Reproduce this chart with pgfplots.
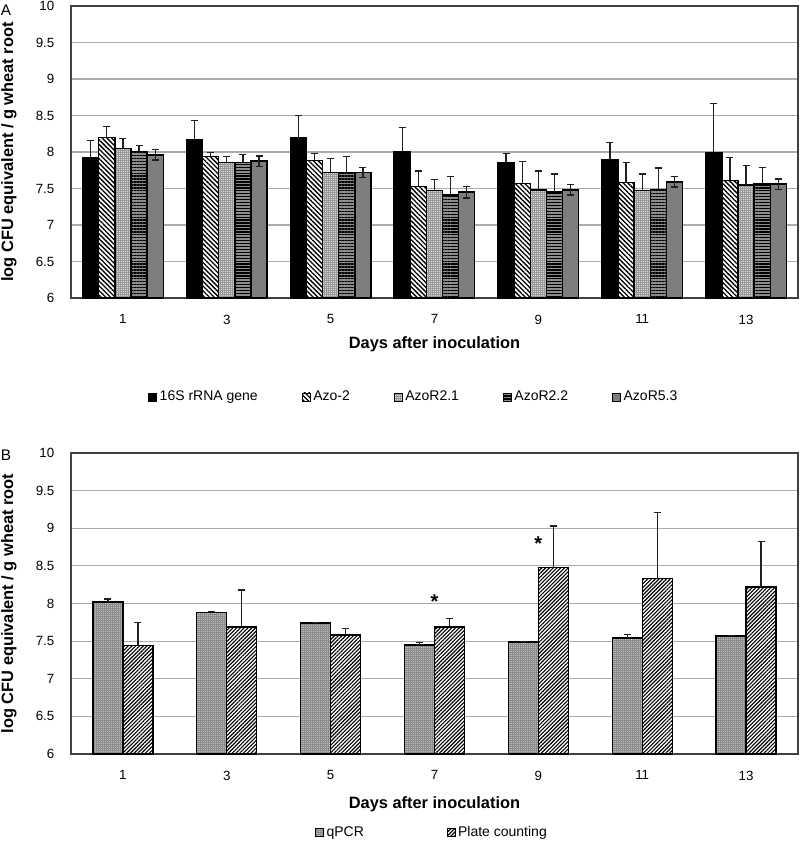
\documentclass[border=0pt]{standalone}
\usepackage{fontspec}
\setmainfont{Liberation Sans}
\usepackage{pgfplots}
\pgfplotsset{compat=1.18}
\usetikzlibrary{patterns,patterns.meta}
\pgfplotsset{
  panel/.style={
    scale only axis,
    width=545.25pt,
    xmin=-0.5, xmax=6.5, ymin=6, ymax=10,
    ybar=0pt,
    xtick={0,...,6}, xticklabels={1,3,5,7,9,11,13},
    ytick={6,6.5,7,7.5,8,8.5,9,9.5,10},
    yticklabels={6,6.5,7,7.5,8,8.5,9,9.5,10},
    major tick length=0pt,
    ymajorgrids, grid style={gray!65, line width=0.9pt},
    axis line style={gray!50!black, line width=0.9pt},
    tick label style={font=\fontsize{10}{12}\selectfont},
    xticklabel style={yshift=-9pt},
    yticklabel style={xshift=-9pt},
    label style={font=\fontsize{12.3}{14}\selectfont\bfseries},
    ylabel={log CFU equivalent / g wheat root},
    xlabel={Days after inoculation},
    ylabel style={at={([xshift=-46.5pt]axis description cs:0,0.5)}, anchor=center},
    legend style={draw=none, font=\fontsize{10.5}{13}\selectfont, legend columns=-1},
    legend image code/.code={\draw[#1,line width=0.6pt] (0pt,-3pt) rectangle (6pt,3pt);},
    error bars/y explicit,
    error bars/y dir=plus,
    error bars/error bar style={draw=gray!25!black, line width=0.9pt, fill=none},
    error bars/error mark options={rotate=90, mark size=2.6pt, draw=gray!25!black, line width=0.9pt},
  },
  barsty/.style={draw=black, line width=1pt},
}
\begin{document}
\begin{tikzpicture}
\useasboundingbox (0,0) rectangle (600pt,-631.5pt);
\node[anchor=north west, font=\fontsize{11.5}{13}\selectfont, inner sep=0pt] at (0.5pt,-3.5pt) {A};
\node[anchor=north west, font=\fontsize{11.5}{13}\selectfont, inner sep=0pt] at (0.5pt,-337.5pt) {B};
% Panel A
\begin{axis}[panel, height=219pt, at={(53.25pt,-223.5pt)}, anchor=south west,
  bar width=12.1pt,
  xlabel style={at={([yshift=-35pt]axis description cs:0.5,0)}, anchor=center},
  legend style={at={(0.472,-0.339)}, anchor=center,
    /tikz/every even column/.append style={column sep=31pt}}]
\addplot[barsty, fill=black] coordinates {
 (0,7.92) +- (0,0.24) (1,8.17) +- (0,0.26) (2,8.195) +- (0,0.31) (3,8.0) +- (0,0.34)
 (4,7.85) +- (0,0.13) (5,7.89) +- (0,0.24) (6,7.99) +- (0,0.67)};
\addlegendentry{16S rRNA gene}
\addplot[barsty, fill=white, postaction={pattern={Lines[angle=-45, distance=2.5pt, line width=1pt]}, pattern color=black}] coordinates {
 (0,8.195) +- (0,0.15) (1,7.94) +- (0,0.05) (2,7.885) +- (0,0.095) (3,7.53) +- (0,0.21)
 (4,7.57) +- (0,0.30) (5,7.58) +- (0,0.28) (6,7.61) +- (0,0.32)};
\addlegendentry{Azo-2}
\addplot[barsty, fill=black!15, postaction={pattern={Hatch[angle=0, distance=1.5pt, line width=0.45pt]}, pattern color=black!40}] coordinates {
 (0,8.05) +- (0,0.14) (1,7.86) +- (0,0.08) (2,7.72) +- (0,0.19) (3,7.47) +- (0,0.15)
 (4,7.48) +- (0,0.26) (5,7.47) +- (0,0.23) (6,7.55) +- (0,0.27)};
\addlegendentry{AzoR2.1}
\addplot[barsty, fill=black!45, postaction={pattern={Lines[angle=0, distance=2.2pt, line width=1pt]}, pattern color=black}] coordinates {
 (0,8.01) +- (0,0.08) (1,7.86) +- (0,0.11) (2,7.72) +- (0,0.22) (3,7.41) +- (0,0.25)
 (4,7.45) +- (0,0.25) (5,7.49) +- (0,0.29) (6,7.56) +- (0,0.23)};
\addlegendentry{AzoR2.2}
\addplot[barsty, fill=black!40, postaction={pattern={Dots[distance=1.5pt, radius=0.5pt]}, pattern color=black!85},
  error bars/y dir=both] coordinates {
 (0,7.96) +- (0,0.07) (1,7.875) +- (0,0.07) (2,7.72) +- (0,0.07) (3,7.45) +- (0,0.08)
 (4,7.48) +- (0,0.07) (5,7.59) +- (0,0.07) (6,7.56) +- (0,0.07)};
\addlegendentry{AzoR5.3}
\end{axis}
% Panel B
\begin{axis}[panel, height=225.75pt, at={(53.25pt,-565.5pt)}, anchor=south west,
  bar width=22.5pt,
  xlabel style={at={([yshift=-38pt]axis description cs:0.5,0)}, anchor=center},
  legend style={at={(0.497,-0.261)}, anchor=center,
    /tikz/every even column/.append style={column sep=60pt}}]
\addplot[barsty, fill=black!25, postaction={pattern={Hatch[angle=0, distance=1.5pt, line width=0.45pt]}, pattern color=black!45}] coordinates {
 (0,8.02) +- (0,0.04) (1,7.88) +- (0,0.01) (2,7.74) +- (0,0.005) (3,7.45) +- (0,0.03)
 (4,7.49) +- (0,0.01) (5,7.54) +- (0,0.05) (6,7.57) +- (0,0.01)};
\addlegendentry{qPCR}
\addplot[barsty, fill=white, postaction={pattern={Lines[angle=45, distance=2pt, line width=0.85pt]}, pattern color=black}] coordinates {
 (0,7.44) +- (0,0.31) (1,7.69) +- (0,0.49) (2,7.58) +- (0,0.09) (3,7.69) +- (0,0.11)
 (4,8.48) +- (0,0.55) (5,8.33) +- (0,0.88) (6,8.22) +- (0,0.60)};
\addlegendentry{Plate counting}
\addplot[only marks, mark=none, bar shift=0pt, forget plot, nodes near coords,
  point meta=explicit symbolic,
  nodes near coords style={anchor=center, font=\fontsize{15}{15}\selectfont\bfseries}]
  coordinates {(3,8.02) [*] (4,8.79) [*]};
\end{axis}
\end{tikzpicture}
\end{document}
